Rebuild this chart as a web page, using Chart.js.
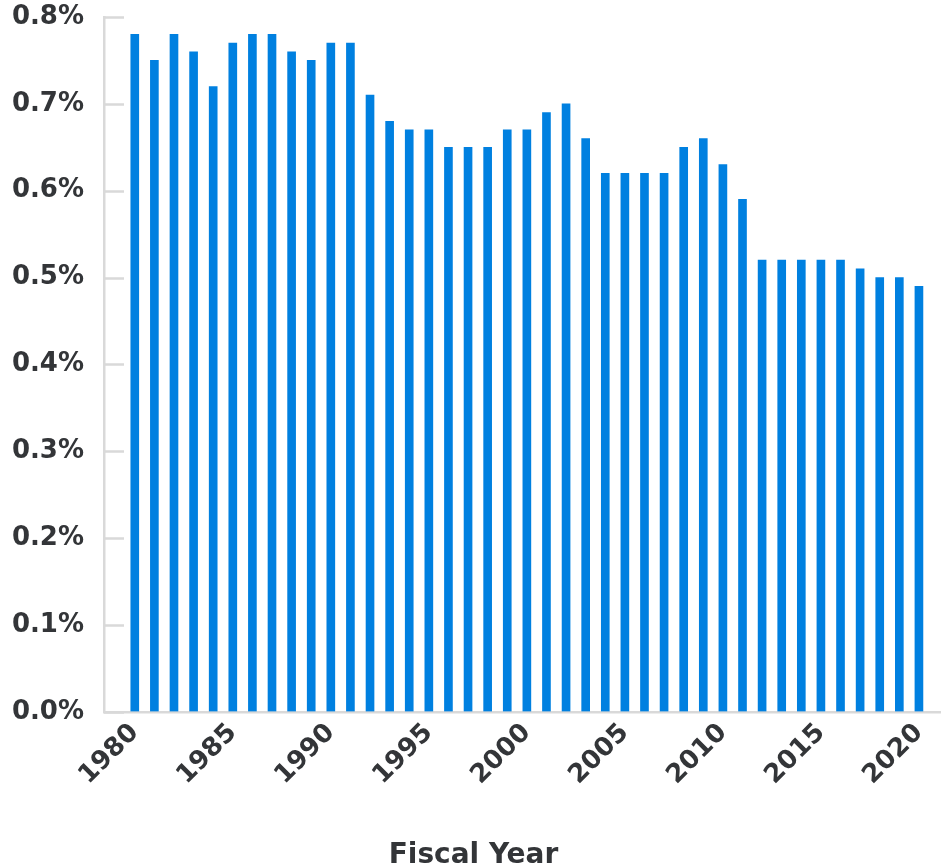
<!DOCTYPE html>
<html>
<head>
<meta charset="utf-8">
<title>Fiscal Year chart</title>
<script src="https://cdn.jsdelivr.net/npm/chart.js@4.4.1/dist/chart.umd.min.js"></script>
<style>
  html, body { margin: 0; padding: 0; background: #fff; }
  #wrap { width: 947px; height: 867px; position: relative; }
</style>
</head>
<body>
<div id="wrap"><canvas id="yearChart"></canvas></div>
<script>
// data (percent)
const years = [1980, 1981, 1982, 1983, 1984, 1985, 1986, 1987, 1988, 1989,
               1990, 1991, 1992, 1993, 1994, 1995, 1996, 1997, 1998, 1999,
               2000, 2001, 2002, 2003, 2004, 2005, 2006, 2007, 2008, 2009,
               2010, 2011, 2012, 2013, 2014, 2015, 2016, 2017, 2018, 2019, 2020];
const values = [0.78, 0.75, 0.78, 0.76, 0.72, 0.77, 0.78, 0.78, 0.76, 0.75,
                0.77, 0.77, 0.71, 0.68, 0.67, 0.67, 0.65, 0.65, 0.65, 0.67,
                0.67, 0.69, 0.70, 0.66, 0.62, 0.62, 0.62, 0.62, 0.65, 0.66,
                0.63, 0.59, 0.52, 0.52, 0.52, 0.52, 0.52, 0.51, 0.50, 0.50, 0.49];
const yTicks = [0, 0.1, 0.2, 0.3, 0.4, 0.5, 0.6, 0.7, 0.8];
const xTitle = "Fiscal Year";

const barColor = "#0080e0";
const axisColor = "#d9d9d9";
const textColor = "#333538";
const fontFamily = "'DejaVu Sans', sans-serif";

// short tick marks drawn inside the plot from the y axis line
const innerTicks = {
    id: "innerTicks",
    afterDatasetsDraw(chart) {
        const { ctx, chartArea, scales } = chart;
        const y = scales.y;
        ctx.save();
        ctx.strokeStyle = axisColor;
        ctx.lineWidth = 2.5;
        y.ticks.forEach(t => {
            const py = Math.round(y.getPixelForValue(t.value)) + 0.5;
            ctx.beginPath();
            ctx.moveTo(chartArea.left, py);
            ctx.lineTo(chartArea.left + 20, py);
            ctx.stroke();
        });
        ctx.restore();
    }
};

const ctx = document.getElementById("yearChart");
new Chart(ctx, {
    type: "bar",
    data: {
        datasets: [{
            data: years.map((yr, i) => ({ x: yr, y: values[i] })),
            backgroundColor: barColor,
            barThickness: 8,
            borderWidth: 0
        }]
    },
    options: {
        responsive: true,
        maintainAspectRatio: false,
        animation: false,
        layout: { padding: { left: 0, top: 17, right: 0, bottom: 0 } },
        plugins: {
            legend: { display: false },
            tooltip: { enabled: false },
            title: {
                display: true,
                text: xTitle,
                position: "bottom",
                color: textColor,
                font: { family: fontFamily, size: 28, weight: "bold", lineHeight: 1 },
                padding: { top: 45, bottom: -3 }
            }
        },
        scales: {
            x: {
                type: "linear",
                min: 1978.43,
                max: 2021.1,
                offset: false,
                grid: { display: true, drawOnChartArea: false, drawTicks: false },
                border: { display: true, color: axisColor, width: 2.5 },
                ticks: {
                    stepSize: 5,
                    includeBounds: false,
                    autoSkip: false,
                    minRotation: 45,
                    maxRotation: 45,
                    padding: 6,
                    color: textColor,
                    font: { family: fontFamily, size: 26, weight: "bold" },
                    callback: v => String(v)
                }
            },
            y: {
                min: 0,
                max: 0.8,
                afterBuildTicks: axis => { axis.ticks = yTicks.map(v => ({ value: v })); },
                afterFit: axis => { axis.width = 104; },
                // invisible tick marks give the gap between labels and axis
                grid: { display: true, drawOnChartArea: false, drawTicks: true,
                        tickLength: 20, color: "rgba(0,0,0,0)" },
                border: { display: true, color: axisColor, width: 2.5 },
                ticks: {
                    padding: 0,
                    color: textColor,
                    font: { family: fontFamily, size: 26, weight: "bold" },
                    callback: v => v.toFixed(1) + "%"
                }
            }
        }
    },
    plugins: [innerTicks]
});
</script>
</body>
</html>
